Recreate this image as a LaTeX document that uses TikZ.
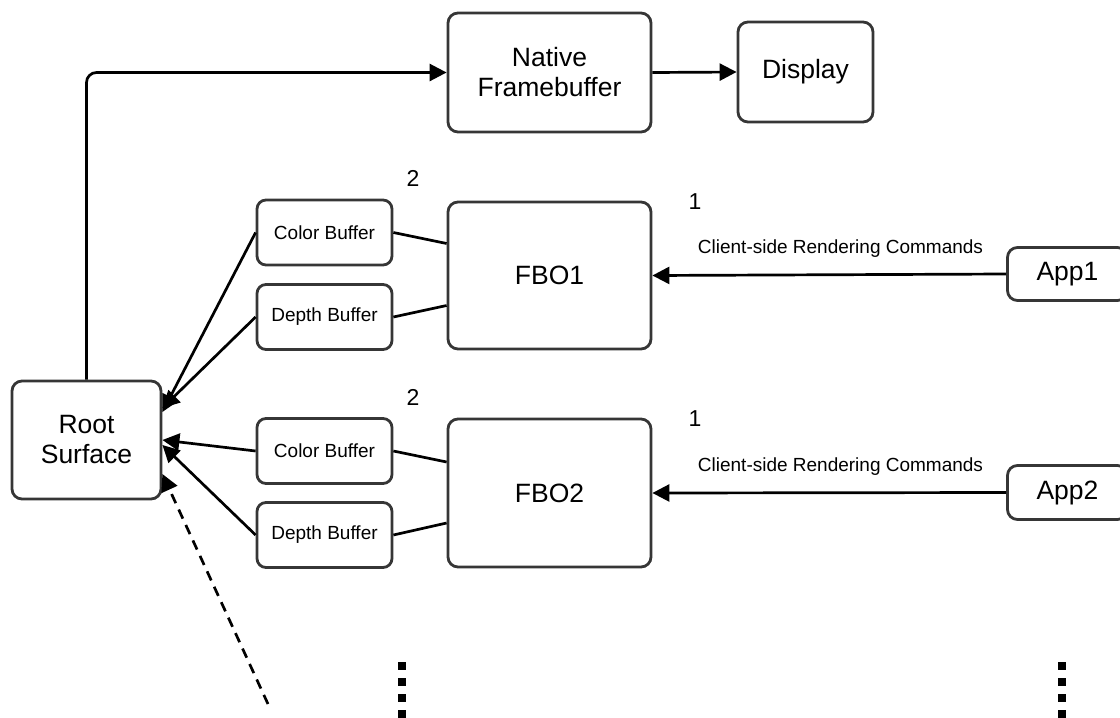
\documentclass[tikz,border=0pt]{standalone}
\usepackage{fontspec}
\setmainfont{Liberation Sans}
\usetikzlibrary{arrows.meta}
\definecolor{edgegray}{HTML}{363636}
\newcommand{\bigfont}{\fontsize{26.5}{30}\selectfont}
\newcommand{\smallfont}{\fontsize{19}{22}\selectfont}
\newcommand{\numfont}{\fontsize{23}{26}\selectfont}
\tikzset{
  box/.style={draw=edgegray, line width=2.8pt, rounded corners=10pt, fill=white,
    align=center, inner sep=0pt, font=\bigfont},
  bufbox/.style={box, rounded corners=9pt, font=\smallfont,
    minimum width=135pt, minimum height=65pt},
  link/.style={draw=black, line width=2.7pt},
  arr/.style={link, -{Triangle[length=17pt,width=17pt]}},
  dasharr/.style={arr, dash pattern=on 10pt off 7pt},
  vdots/.style={draw=black, line width=8pt, dash pattern=on 8pt off 8pt},
  lbl/.style={inner sep=0pt, font=\smallfont},
  num/.style={inner sep=0pt, font=\numfont}
}
\begin{document}
\begin{tikzpicture}[x=1pt, y=-1pt]
  \useasboundingbox (0,0) rectangle (1120,718);
  \clip (0,0) rectangle (1120,718);

  % top row: output path
  \node[box, minimum width=203pt, minimum height=119pt] (nfb) at (549.5,72.5) {Native\\Framebuffer};
  \node[box, minimum width=135pt, minimum height=100pt] (disp) at (805.5,72) {Display};

  % compositor surface
  \node[box, minimum width=149pt, minimum height=118pt] (root) at (86.5,440) {Root\\Surface};

  % first client
  \node[box, minimum width=203pt, minimum height=147pt] (fbo1) at (549.5,275.5) {FBO1};
  \node[bufbox] (cb1) at (324.5,232.5) {Color Buffer};
  \node[bufbox] (db1) at (324.5,317) {Depth Buffer};
  \node[box, minimum width=120pt, minimum height=53pt] (app1) at (1067.5,274) {App1};

  % second client
  \node[box, minimum width=203pt, minimum height=148pt] (fbo2) at (549.5,493) {FBO2};
  \node[bufbox] (cb2) at (324.5,451) {Color Buffer};
  \node[bufbox] (db2) at (324.5,535) {Depth Buffer};
  \node[box, minimum width=120pt, minimum height=54pt] (app2) at (1067.5,492.5) {App2};

  % step numbers and command labels
  \node[num] (n2a) at (413,178) {2};
  \node[num] (n1a) at (695,202) {1};
  \node[lbl] (cmd1) at (840.5,249) {Client-side Rendering Commands};
  \node[num] (n2b) at (413,397) {2};
  \node[num] (n1b) at (695,419) {1};
  \node[lbl] (cmd2) at (840.5,467) {Client-side Rendering Commands};

  % output connectors
  \draw[arr, rounded corners=10pt] (root.north) |- (nfb.west);
  \draw[arr] (nfb.east) -- (disp.west);

  % client commands into the FBOs
  \draw[arr] (app1.west) -- (fbo1.east);
  \draw[arr] (app2.west) -- (fbo2.east);

  % FBO attachments
  \draw[link] (cb1.east) -- ([yshift=32pt]fbo1.west);
  \draw[link] (db1.east) -- ([yshift=-30pt]fbo1.west);
  \draw[link] (cb2.east) -- ([yshift=31pt]fbo2.west);
  \draw[link] (db2.east) -- ([yshift=-30pt]fbo2.west);

  % buffers composited into the root surface
  \draw[arr] (cb1.west) -- ([yshift=28pt]root.east);
  \draw[arr] (db1.west) -- ([yshift=32pt]root.east);
  \draw[arr] (cb2.west) -- (root.east);
  \draw[arr] (db2.west) -- ([yshift=-5pt]root.east);

  % further clients
  \coordinate (more) at (268,704);
  \draw[dasharr] (more) -- ([yshift=-34pt]root.east);
  \coordinate (fbotop) at (402,662);
  \coordinate (fbobot) at (402,722);
  \draw[vdots] (fbotop) -- (fbobot);
  \coordinate (apptop) at (1062,662);
  \coordinate (appbot) at (1062,722);
  \draw[vdots] (apptop) -- (appbot);
\end{tikzpicture}
\end{document}
